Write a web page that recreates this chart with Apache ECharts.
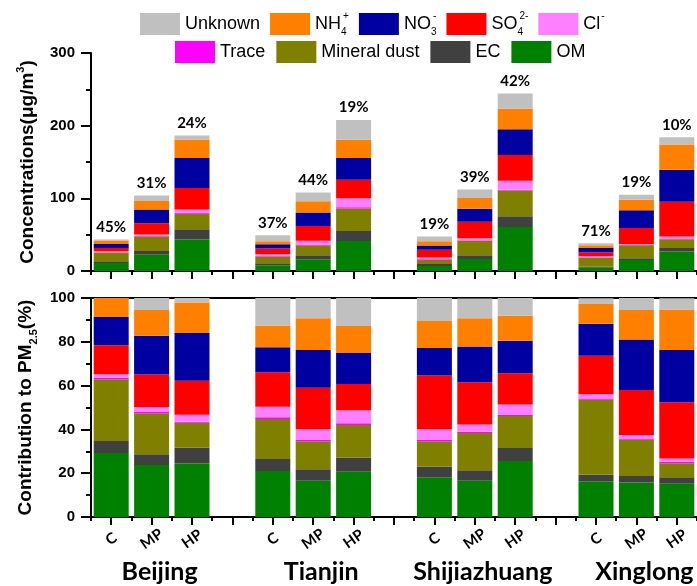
<!DOCTYPE html>
<html>
<head>
<meta charset="utf-8">
<script src="https://cdn.jsdelivr.net/npm/echarts@6/dist/echarts.min.js"></script>
<style>
  html, body { margin: 0; padding: 0; background: #fff; }
  #chart { width: 697px; height: 586px; }
</style>
</head>
<body>
<div id="chart"></div>
<script>
// Sites and pollution periods (C = clean, MP = moderately polluted, HP = heavily polluted)
const cities = ['Beijing', 'Tianjin', 'Shijiazhuang', 'Xinglong'];
const periods = ['C', 'MP', 'HP'];

// Component concentrations (µg/m3), order: per site C, MP, HP
const concOM      = [11.0, 22.5, 43.2,  7.8, 16.1, 41.4,  6.9, 16.6, 60.7,  4.6, 15.2, 26.7];
const concEC      = [ 2.3,  5.1, 14.3,  2.8,  5.5, 13.8,  2.8,  5.1, 14.7,  1.4,  2.3,  5.1];
const concDust    = [12.0, 19.8, 21.2,  9.2, 13.8, 30.8,  5.5, 19.8, 35.4, 12.4, 17.9, 12.0];
const concTrace   = [ 0.5,  1.0,  1.4,  0.9,  0.9,  1.8,  1.0,  0.9,  0.9,  0.4,  0.9,  0.9];
const concCl      = [ 1.4,  2.0,  4.6,  2.3,  5.5, 12.4,  2.3,  2.8, 12.4,  1.4,  0.9,  2.8];
const concSO4     = [ 4.6, 15.2, 29.4,  7.8, 20.2, 25.3, 10.6, 22.5, 35.4,  5.5, 22.1, 47.8];
const concNO3     = [ 5.5, 18.9, 41.4,  6.0, 18.4, 29.9,  6.0, 17.9, 35.4,  6.0, 24.4, 44.2];
const concNH4     = [ 4.6, 12.0, 25.3,  4.1, 15.6, 25.3,  6.0, 14.7, 28.5,  3.7, 14.3, 34.5];
const concUnknown = [ 1.4,  7.4,  5.5,  8.3, 12.0, 27.1,  6.4, 12.0, 20.7,  2.8,  6.9, 10.1];

// Contribution to PM2.5 (%)
const pctOM      = [29.2, 23.7, 24.4, 21.0, 16.6, 20.7, 18.1, 16.6, 25.6, 16.3, 15.8, 15.2];
const pctEC      = [ 5.5,  5.0,  7.2,  5.5,  5.2,  6.5,  4.9,  4.7,  5.9,  3.0,  2.9,  2.9];
const pctDust    = [28.2, 18.7, 11.4, 18.3, 12.8, 14.8, 11.6, 17.0, 14.6, 34.2, 16.6,  6.5];
const pctTrace   = [ 0.6,  0.5,  0.5,  0.8,  0.8,  0.8,  0.6,  0.6,  0.6,  0.6,  0.5,  0.6];
const pctCl      = [ 1.7,  2.3,  3.2,  4.7,  4.7,  5.9,  4.9,  3.3,  4.7,  2.0,  1.7,  1.5];
const pctSO4     = [13.2, 14.9, 15.5, 15.8, 18.9, 12.0, 24.5, 19.3, 14.2, 17.5, 20.5, 25.7];
const pctNO3     = [12.9, 17.7, 21.8, 11.4, 17.2, 14.2, 12.6, 16.4, 14.9, 14.6, 23.0, 23.9];
const pctNH4     = [ 8.7, 11.7, 13.9,  9.9, 14.5, 12.3, 12.3, 12.9, 11.4,  9.1, 13.5, 18.4];
const pctUnknown = [ 0.0,  5.5,  2.1, 12.6,  9.4, 12.8, 10.5,  9.0,  8.1,  2.6,  5.5,  5.2];

// Percentages printed above each concentration stack
const totalLabels = ['45%', '31%', '24%', '37%', '44%', '19%', '19%', '39%', '42%', '71%', '19%', '10%'];

// Stack order from bottom to top
const components = [
  { name: 'OM',           color: '#008000', conc: concOM,      pct: pctOM },
  { name: 'EC',           color: '#404040', conc: concEC,      pct: pctEC },
  { name: 'Mineral dust', color: '#808000', conc: concDust,    pct: pctDust },
  { name: 'Trace',        color: '#FF00FF', conc: concTrace,   pct: pctTrace },
  { name: 'Cl-',          color: '#FF80FF', conc: concCl,      pct: pctCl },
  { name: 'SO42-',        color: '#FF0000', conc: concSO4,     pct: pctSO4 },
  { name: 'NO3-',         color: '#0000A0', conc: concNO3,     pct: pctNO3 },
  { name: 'NH4+',         color: '#FF8000', conc: concNH4,     pct: pctNH4 },
  { name: 'Unknown',      color: '#C0C0C0', conc: concUnknown, pct: pctUnknown }
];

const legendRow1 = ['Unknown', 'NH4+', 'NO3-', 'SO42-', 'Cl-'];
const legendRow2 = ['Trace', 'Mineral dust', 'EC', 'OM'];

// Category slots: three periods per site with an empty slot between sites
const categories = [], slotToSample = [], cityLabels = [];
cities.forEach((city, ci) => {
  periods.forEach((p, pi) => {
    categories.push(p);
    slotToSample.push(ci * periods.length + pi);
    cityLabels.push(pi === 1 ? city : '');
  });
  if (ci < cities.length - 1) {
    categories.push('');
    slotToSample.push(-1);
    cityLabels.push('');
  }
});
const toSlots = arr => slotToSample.map(i => (i < 0 ? null : arr[i]));

const SANS = '"Liberation Sans", Arial, sans-serif';
const LABEL_FONT = 'Lato, "Open Sans", sans-serif';
const AXIS_COLOR = '#000';

// Ion names: subscript and superscript stacked (subscript token takes ~no width)
const legendText = {
  'NH4+': '{t|NH}{sub|4}{sup|+}',
  'NO3-': '{t|NO}{sub|3}{sup|-}',
  'SO42-': '{t|SO}{sub|4}{sup|2-}',
  'Cl-': '{t|Cl}{sup|-}'
};
const legendRich = {
  t:   { fontFamily: SANS, fontSize: 18, lineHeight: 26, color: '#000' },
  sub: { fontFamily: SANS, fontSize: 10, lineHeight: 10, width: 1, verticalAlign: 'bottom', color: '#000' },
  sup: { fontFamily: SANS, fontSize: 10, lineHeight: 10, verticalAlign: 'top', color: '#000', padding: [0, 0, 0, 1] }
};
function makeLegend(data, left, top, gap) {
  return {
    data, left, top,
    padding: 0,
    orient: 'horizontal',
    icon: 'rect',
    itemWidth: 40,
    itemHeight: 22,
    itemGap: gap,
    selectedMode: true,
    formatter: name => legendText[name] || '{t|' + name + '}',
    textStyle: { rich: legendRich }
  };
}

const axisLine = { show: true, lineStyle: { color: AXIS_COLOR, width: 2 } };
const yLabel = { color: '#000', fontFamily: SANS, fontWeight: 'bold', fontSize: 15, margin: 16 };
const nameRich = {
  n:   { fontFamily: SANS, fontWeight: 'bold', fontSize: 19, color: '#000', lineHeight: 26 },
  sup: { fontFamily: SANS, fontWeight: 'bold', fontSize: 11, color: '#000', lineHeight: 11, verticalAlign: 'top' },
  sub: { fontFamily: SANS, fontWeight: 'bold', fontSize: 11, color: '#000', lineHeight: 11, verticalAlign: 'bottom' }
};

function valueAxis(gridIndex, max, interval, name) {
  return {
    type: 'value', gridIndex, min: 0, max, interval,
    name, nameLocation: 'middle', nameGap: 50,
    nameTextStyle: { rich: nameRich },
    axisLine,
    axisTick: { show: true, inside: false, length: 10, lineStyle: { color: AXIS_COLOR, width: 2 } },
    minorTick: { show: true, splitNumber: 2, length: 5, lineStyle: { color: AXIS_COLOR, width: 2 } },
    splitLine: { show: false },
    axisLabel: yLabel
  };
}

// Long ticks at slot centres, short ticks at slot boundaries
function centreAxis(gridIndex, showLabels) {
  return {
    type: 'category', gridIndex, position: 'bottom', data: categories,
    axisLine,
    axisTick: { show: true, alignWithLabel: true, interval: 0, length: 8, lineStyle: { color: AXIS_COLOR, width: 2 } },
    axisLabel: showLabels ? {
      show: true, interval: 0, rotate: 35, margin: 22, align: 'center', verticalAlign: 'middle',
      color: '#000', fontFamily: LABEL_FONT, fontWeight: 'bold', fontSize: 15
    } : { show: false },
    splitLine: { show: false }
  };
}
function boundaryAxis(gridIndex) {
  return {
    type: 'category', gridIndex, position: 'bottom', data: categories,
    axisLine: { show: false },
    axisTick: { show: true, interval: 0, length: 4, lineStyle: { color: AXIS_COLOR, width: 2 } },
    axisLabel: { show: false },
    splitLine: { show: false }
  };
}

const xAxes = [
  centreAxis(0, false),      // 0: top panel bars
  boundaryAxis(0),           // 1
  centreAxis(1, true),       // 2: bottom panel bars
  boundaryAxis(1),           // 3
  {                          // 4: site names
    type: 'category', gridIndex: 1, position: 'bottom', data: cityLabels,
    axisLine: { show: false }, axisTick: { show: false }, splitLine: { show: false },
    axisLabel: { show: true, interval: 0, margin: 42, color: '#000', padding: [0, 0, 0, 16],
      fontFamily: LABEL_FONT, fontWeight: 'bold', fontSize: 25 }
  },
  {                          // 5: frame line on top of the bottom panel
    type: 'category', gridIndex: 1, position: 'top', data: categories,
    axisLine, axisTick: { show: false }, axisLabel: { show: false }, splitLine: { show: false }
  }
];

const series = [];
components.forEach((c, k) => {
  const isTop = k === components.length - 1;
  series.push({
    name: c.name, type: 'bar', stack: 'conc', xAxisIndex: 0, yAxisIndex: 0,
    barWidth: 35, data: toSlots(c.conc),
    itemStyle: { color: c.color },
    label: isTop ? {
      show: true, position: 'top', distance: 5, color: '#000',
      fontFamily: LABEL_FONT, fontWeight: 'bold', fontSize: 15,
      formatter: p => totalLabels[slotToSample[p.dataIndex]]
    } : { show: false },
    emphasis: { disabled: true }
  });
  series.push({
    name: c.name, type: 'bar', stack: 'pct', xAxisIndex: 2, yAxisIndex: 1,
    barWidth: 35, data: toSlots(c.pct),
    itemStyle: { color: c.color },
    emphasis: { disabled: true }
  });
});

const chart = echarts.init(document.getElementById('chart'), null, { renderer: 'canvas' });
chart.setOption({
  animation: false,
  backgroundColor: '#fff',
  legend: [makeLegend(legendRow1, 140, 11, 10), makeLegend(legendRow2, 175, 41, 11)],
  grid: [
    { left: 91, top: 53, width: 615, height: 218 },
    { left: 91, top: 298, width: 615, height: 219 }
  ],
  xAxis: xAxes,
  yAxis: [
    valueAxis(0, 300, 100, '{n|Concentrations(μg/m}{sup|3}{n|)}'),
    valueAxis(1, 100, 20, '{n|Contribution to PM}{sub|2.5}{n|(%)}')
  ],
  series
});
</script>
</body>
</html>
